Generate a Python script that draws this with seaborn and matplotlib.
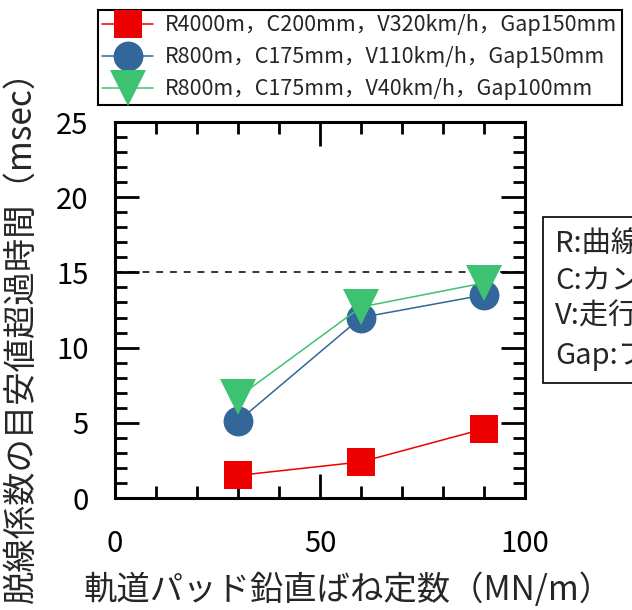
import numpy as np
import pandas as pd
import matplotlib
matplotlib.use("Agg")
import matplotlib.pyplot as plt
import seaborn as sns
from matplotlib.ticker import MultipleLocator

sns.set_theme(style="ticks")
plt.rcParams["font.family"] = ["Noto Sans CJK JP", "DejaVu Sans"]

# data
stiffness = [30, 60, 90]
r4000_v320 = [1.5, 2.4, 4.6]
r800_v110 = [5.1, 12.0, 13.5]
r800_v40 = [6.7, 12.7, 14.3]
labels = ["R4000m，C200mm，V320km/h，Gap150mm",
          "R800m，C175mm，V110km/h，Gap150mm",
          "R800m，C175mm，V40km/h，Gap100mm"]
threshold = 15
notes = ["R:曲線半径", "C:カント", "V:走行速度", "Gap:フランジ遊間"]

fig = plt.figure(figsize=(6.32, 6.10), dpi=100)
ax = fig.add_axes([0.182, 0.1836, 0.6487, 0.6164])

series = [
    (r4000_v320, "#EE0000", "s", 19.5),
    (r800_v110, "#336699", "o", 21.5),
    (r800_v40, "#3CC270", "v", 26),
]
for (vals, col, mk, ms), lab in zip(series, labels):
    sns.lineplot(x=stiffness, y=vals, ax=ax, color=col, marker=mk,
                 markersize=ms, markeredgewidth=0, linewidth=1.1, label=lab)

ax.plot([0, 100], [threshold, threshold], color="black", lw=1.1,
        ls=(0, (4.5, 4.5)), zorder=1)

ax.set_xlim(0, 100)
ax.set_ylim(0, 25)
ax.xaxis.set_major_locator(MultipleLocator(50))
ax.xaxis.set_minor_locator(MultipleLocator(10))
ax.yaxis.set_major_locator(MultipleLocator(5))
ax.yaxis.set_minor_locator(MultipleLocator(1))
ax.tick_params(which="both", direction="in", top=True, right=True,
               width=2, color="black", labelsize=21, labelcolor="black")
ax.tick_params(which="major", length=17)
ax.tick_params(which="minor", length=8.6)
ax.tick_params(axis="x", which="major", pad=22)
ax.tick_params(axis="y", which="major", pad=19)
for sp in ax.spines.values():
    sp.set_linewidth(2.2)
    sp.set_color("black")

ax.set_xlabel("軌道パッド鉛直ばね定数（MN/m）", fontsize=24)
ax.set_ylabel("脱線係数の目安値超過時間（msec）", fontsize=24)
ax.xaxis.label.set_va("center")
ax.yaxis.label.set_va("center")
ax.xaxis.set_label_coords(0.568, -0.245)
ax.yaxis.set_label_coords(-0.228, 0.452)

handles, labs = ax.get_legend_handles_labels()
ax.get_legend().remove()
leg = fig.legend(handles, labs, loc="upper left", bbox_to_anchor=(0.155, 0.984),
                 fontsize=15.5, frameon=True, fancybox=False, framealpha=1,
                 edgecolor="black", borderpad=0.2, labelspacing=0.47,
                 handlelength=2.37, handletextpad=0.56, borderaxespad=0)
leg.get_frame().set_linewidth(1.5)

fig.text(555 / 632, 1 - 300 / 610, "\n".join(notes), fontsize=21,
         va="center", ha="left", linespacing=1.27,
         bbox=dict(boxstyle="square,pad=0.42", fc="white", ec="black", lw=1.2))

fig.savefig("out.png", dpi=100)
